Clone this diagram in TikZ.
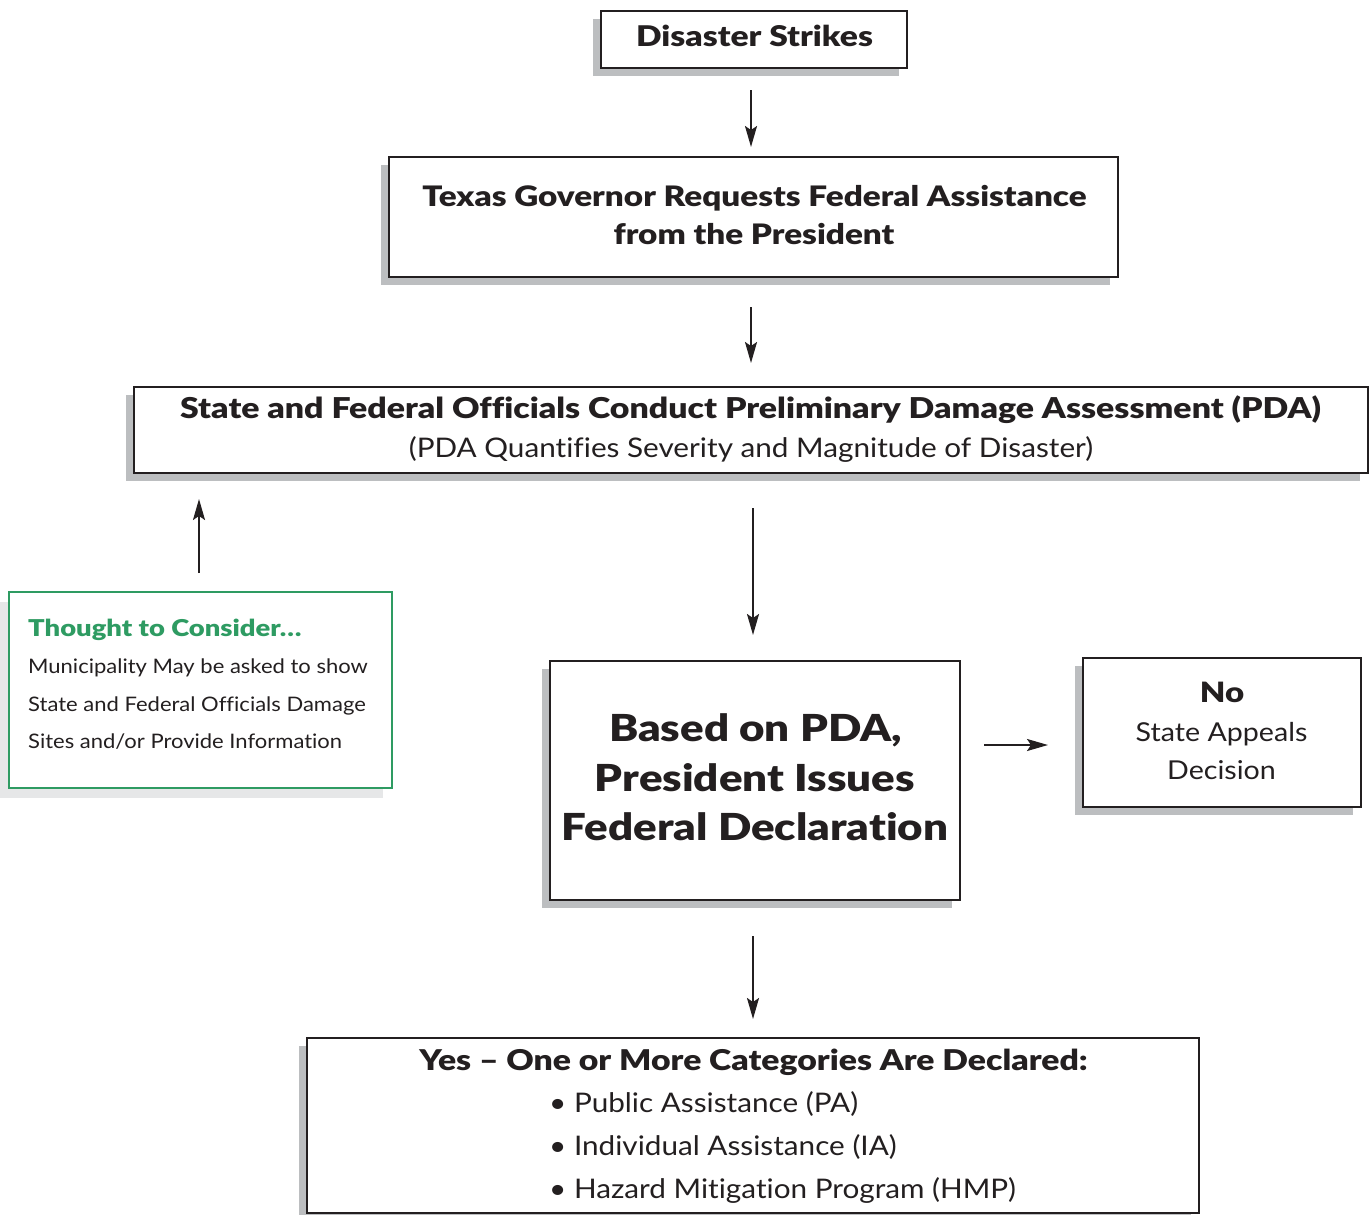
\documentclass[tikz,border=0pt]{standalone}
\usepackage{fontspec}
\setmainfont{Lato}
\newfontfamily\fR{Lato}[FakeStretch=1.10, RawFeature={-liga;-clig;-dlig;-calt}]
\IfFontExistsTF{Lato Black}
  {\newfontfamily\fBfam{Lato Black}[FakeStretch=1.18, RawFeature={-liga;-clig;-dlig;-calt}]\newcommand\fB{\fBfam}}
  {\newfontfamily\fBfam{Lato}[FakeStretch=1.23, RawFeature={-liga;-clig;-dlig;-calt}]\newcommand\fB{\fBfam\bfseries}}
\usetikzlibrary{arrows.meta,shadows}
\definecolor{ink}{HTML}{231F20}
\definecolor{shade}{HTML}{BCBEC0}
\definecolor{paleshade}{HTML}{E6E7E8}
\definecolor{leaf}{HTML}{2E9B62}
\tikzset{
  x=1pt, y=-1pt,
  flowbox/.style={draw=ink, line width=2.4pt, fill=white, inner sep=0pt,
    general shadow={fill=shade, shadow xshift=-8pt, shadow yshift=-8pt}},
  notebox/.style={draw=leaf, line width=2pt, fill=white, inner sep=0pt,
    general shadow={fill=paleshade, shadow xshift=-9pt, shadow yshift=-10pt}},
  lbl/.style={anchor=base, inner sep=0pt, text=ink},
  lbll/.style={anchor=base west, inner sep=0pt, text=ink},
  arr/.style={draw=ink, line width=2pt, -{Stealth[length=21pt,width=12pt,inset=4pt]}},
}
\begin{document}
\begin{tikzpicture}
\useasboundingbox (0,0) rectangle (1371,1215);

% boxes
\node[flowbox, minimum width=306pt, minimum height=57pt] (disaster) at (754,39.5) {};
\node[flowbox, minimum width=729pt, minimum height=120pt] (governor) at (753.5,217) {};
\node[flowbox, minimum width=1234pt, minimum height=86pt] (pda) at (751,430) {};
\node[notebox, minimum width=383pt, minimum height=196pt] (thought) at (200.5,690) {};
\node[flowbox, minimum width=410pt, minimum height=239pt] (declare) at (755,780.5) {};
\node[flowbox, minimum width=278pt, minimum height=149pt] (appeal) at (1222,732.5) {};
\node[flowbox, minimum width=892pt, minimum height=175pt] (granted) at (753,1125.5) {};

% texts
\node[lbl, font=\fB\fontsize{28.5}{30}\selectfont] (tDis) at (754.5,47) {Disaster Strikes};
\node[lbl, font=\fB\fontsize{28.2}{30}\selectfont] (tGov1) at (754.5,206) {Texas Governor Requests Federal Assistance};
\node[lbl, font=\fB\fontsize{28.2}{30}\selectfont] (tGov2) at (754,244) {from the President};
\node[lbl, font=\fB\fontsize{28.7}{30}\selectfont] (tPda1) at (750.5,418) {State and Federal Officials Conduct Preliminary Damage Assessment (PDA)};
\node[lbl, font=\fR\fontsize{27}{30}\selectfont] (tPda2) at (751,457) {(PDA Quantifies Severity and Magnitude of Disaster)};

\node[lbll, font=\fB\fontsize{23.2}{26}\selectfont, text=leaf] (tTh0) at (28,636) {Thought to Consider…};
\node[lbll, font=\fR\fontsize{20}{24}\selectfont] (tTh1) at (28,673) {Municipality May be asked to show};
\node[lbll, font=\fR\fontsize{20}{24}\selectfont] (tTh2) at (28,711) {State and Federal Officials Damage};
\node[lbll, font=\fR\fontsize{20}{24}\selectfont] (tTh3) at (28,748) {Sites and/or Provide Information};

\node[lbl, font=\fB\fontsize{37.2}{42}\selectfont] (tDec1) at (755.5,741) {Based on PDA,};
\node[lbl, font=\fB\fontsize{37.2}{42}\selectfont] (tDec2) at (755,791) {President Issues};
\node[lbl, font=\fB\fontsize{37.2}{42}\selectfont] (tDec3) at (755,840) {Federal Declaration};

\node[lbl, font=\fB\fontsize{28}{32}\selectfont] (tNo1) at (1222,702) {No};
\node[lbl, font=\fR\fontsize{26}{32}\selectfont] (tNo2) at (1221.5,741) {State Appeals};
\node[lbl, font=\fR\fontsize{26}{32}\selectfont] (tNo3) at (1221.5,779) {Decision};

\node[lbl, font=\fB\fontsize{28.6}{30}\selectfont] (tYes0) at (753.5,1070) {Yes – One or More Categories Are Declared:};
\node[lbll, font=\fR\fontsize{27}{30}\selectfont] (tYes1) at (549,1112) {• Public Assistance (PA)};
\node[lbll, font=\fR\fontsize{27}{30}\selectfont] (tYes2) at (549,1155) {• Individual Assistance (IA)};
\node[lbll, font=\fR\fontsize{27}{30}\selectfont] (tYes3) at (549,1198) {• Hazard Mitigation Program (HMP)};

% arrow ends
\coordinate (a1s) at (751,90);   \coordinate (a1e) at (751,147);
\coordinate (a2s) at (751,307);  \coordinate (a2e) at (751,363);
\coordinate (a3s) at (753,508);  \coordinate (a3e) at (753,635);
\coordinate (a4s) at (199,573);  \coordinate (a4e) at (199,499);
\coordinate (a5s) at (984,745);  \coordinate (a5e) at (1048,745);
\coordinate (a6s) at (753,936);  \coordinate (a6e) at (753,1019);

\draw[arr] (a1s) -- (a1e);
\draw[arr] (a2s) -- (a2e);
\draw[arr] (a3s) -- (a3e);
\draw[arr] (a4s) -- (a4e);
\draw[arr] (a5s) -- (a5e);
\draw[arr] (a6s) -- (a6e);
\end{tikzpicture}
\end{document}
